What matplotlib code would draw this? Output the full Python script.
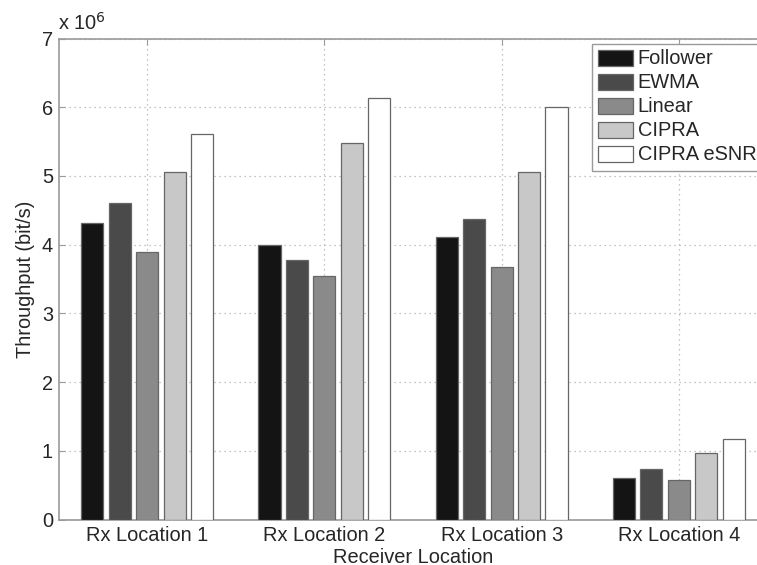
import matplotlib

matplotlib.use("Agg")
import matplotlib.pyplot as plt
import numpy as np

# values (bit/s)
locations = ["Rx Location 1", "Rx Location 2", "Rx Location 3", "Rx Location 4"]
series_names = ["Follower", "EWMA", "Linear", "CIPRA", "CIPRA eSNR"]
follower = [4.32e6, 3.99e6, 4.11e6, 0.61e6]
ewma = [4.60e6, 3.78e6, 4.37e6, 0.73e6]
linear = [3.89e6, 3.55e6, 3.68e6, 0.58e6]
cipra = [5.06e6, 5.48e6, 5.05e6, 0.97e6]
cipra_esnr = [5.61e6, 6.14e6, 6.00e6, 1.17e6]

colors = ["#141414", "#4a4a4a", "#8a8a8a", "#c8c8c8", "#ffffff"]
text_color = "#262626"
spine_color = "#9a9a9a"

plt.rcParams["font.family"] = ["Liberation Sans", "DejaVu Sans"]
plt.rcParams["font.size"] = 14.4

fig = plt.figure(figsize=(7.57, 5.65), dpi=100)
# axes runs past the right edge of the figure, as in the cropped original
ax = fig.add_axes([58.5 / 757, 45.5 / 565, 709 / 757, 481 / 565])

x = np.arange(1, len(locations) + 1)
pitch = 0.155
width = 0.125
all_series = [follower, ewma, linear, cipra, cipra_esnr]
for i, (name, vals) in enumerate(zip(series_names, all_series)):
    offset = (i - 2) * pitch
    ax.bar(x + offset, vals, width, color=colors[i], edgecolor="#666666",
           linewidth=0.9, label=name, zorder=3)

ax.set_xlim(0.5, 4.5)
ax.set_ylim(0, 7e6)
ax.set_xticks(x)
ax.set_xticklabels(locations)
ax.set_yticks(np.arange(0, 8) * 1e6)
ax.set_yticklabels([str(v) for v in range(8)])

ax.grid(True, linestyle=(0, (1, 3)), color="#b0b0b0", linewidth=0.9, zorder=0)
ax.tick_params(direction="in", length=4, color=spine_color, labelcolor=text_color,
               top=True, right=True)
ax.tick_params(axis="x", pad=5)
ax.tick_params(axis="y", pad=4)
for s in ax.spines.values():
    s.set_color(spine_color)
    s.set_linewidth(1.2)

ax.text(0.0, 1.01, r"x 10$^{6}$", transform=ax.transAxes, color=text_color,
        fontsize=14.4, ha="left", va="bottom")

ax.set_xlabel("Receiver Location", color=text_color, labelpad=1.5)
ax.set_ylabel("Throughput (bit/s)", color=text_color, labelpad=5)

leg = ax.legend(loc="upper right", bbox_to_anchor=(1.0, 1.0), borderaxespad=0.25,
                fancybox=False, framealpha=1, edgecolor=spine_color,
                handlelength=1.75, handleheight=0.85, handletextpad=0.25,
                labelspacing=0.25, borderpad=0.3)
for t in leg.get_texts():
    t.set_color(text_color)
leg.get_frame().set_linewidth(1.0)

fig.savefig("out.png", dpi=100)
